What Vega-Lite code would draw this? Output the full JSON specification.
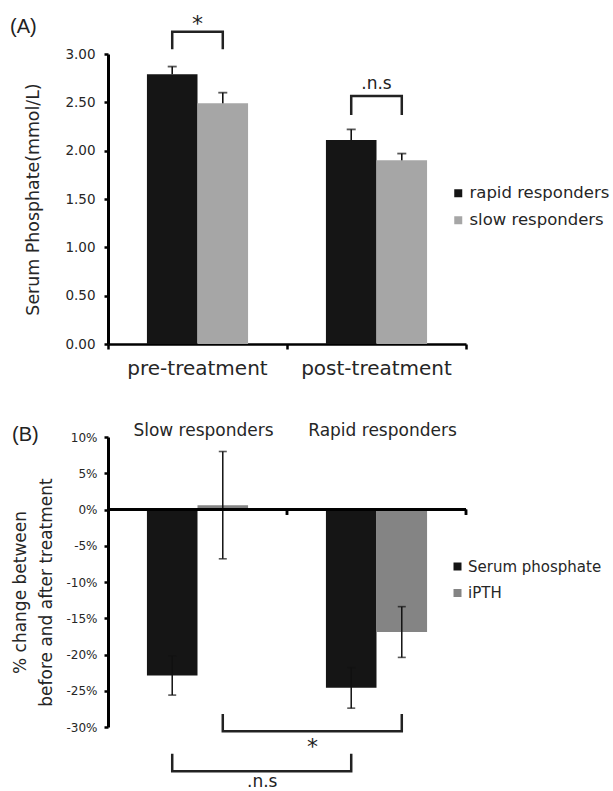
{
  "$schema": "https://vega.github.io/schema/vega-lite/v6.json",
  "padding": {"left": 10, "top": 12, "right": 0, "bottom": 0},
  "background": "white",
  "config": {
    "view": {"stroke": null},
    "font": "DejaVu Sans",
    "axis": {"labelFont": "DejaVu Sans", "titleFont": "DejaVu Sans", "labelColor": "#262626", "titleColor": "#262626", "titleFontWeight": "normal", "domainColor": "#000", "tickColor": "#000", "grid": false},
    "legend": {"labelFont": "DejaVu Sans", "labelColor": "#262626"},
    "title": {"font": "Liberation Sans", "fontWeight": "normal", "color": "#222"}
  },
  "datasets": {
    "phosphate": [
      {"period": "pre-treatment", "group": "rapid responders", "mean": 2.79, "upper": 2.87},
      {"period": "pre-treatment", "group": "slow responders", "mean": 2.49, "upper": 2.60},
      {"period": "post-treatment", "group": "rapid responders", "mean": 2.11, "upper": 2.22},
      {"period": "post-treatment", "group": "slow responders", "mean": 1.90, "upper": 1.97}
    ],
    "phosBrackets": [
      {"bracket": "pre", "period": "pre-treatment", "group": "rapid responders", "step": 1, "y": 3.05},
      {"bracket": "pre", "period": "pre-treatment", "group": "rapid responders", "step": 2, "y": 3.23},
      {"bracket": "pre", "period": "pre-treatment", "group": "slow responders", "step": 3, "y": 3.23},
      {"bracket": "pre", "period": "pre-treatment", "group": "slow responders", "step": 4, "y": 3.05},
      {"bracket": "post", "period": "post-treatment", "group": "rapid responders", "step": 1, "y": 2.37},
      {"bracket": "post", "period": "post-treatment", "group": "rapid responders", "step": 2, "y": 2.565},
      {"bracket": "post", "period": "post-treatment", "group": "slow responders", "step": 3, "y": 2.565},
      {"bracket": "post", "period": "post-treatment", "group": "slow responders", "step": 4, "y": 2.37}
    ],
    "phosStar": [{"period": "pre-treatment", "label": "*", "y": 3.24}],
    "phosNs": [{"period": "post-treatment", "label": ".n.s", "y": 2.64}],
    "change": [
      {"group": "Slow responders", "measure": "Serum phosphate", "value": -22.9, "lower": -25.6, "upper": -20.2},
      {"group": "Slow responders", "measure": "iPTH", "value": 0.6, "lower": -6.8, "upper": 8.0},
      {"group": "Rapid responders", "measure": "Serum phosphate", "value": -24.6, "lower": -27.4, "upper": -21.8},
      {"group": "Rapid responders", "measure": "iPTH", "value": -16.9, "lower": -20.4, "upper": -13.4}
    ],
    "changeBrackets": [
      {"bracket": "ns", "group": "Slow responders", "measure": "Serum phosphate", "step": 1, "y": -33.7},
      {"bracket": "ns", "group": "Slow responders", "measure": "Serum phosphate", "step": 2, "y": -36.1},
      {"bracket": "ns", "group": "Rapid responders", "measure": "Serum phosphate", "step": 3, "y": -36.1},
      {"bracket": "ns", "group": "Rapid responders", "measure": "Serum phosphate", "step": 4, "y": -33.7},
      {"bracket": "star", "group": "Slow responders", "measure": "iPTH", "step": 1, "y": -28.2},
      {"bracket": "star", "group": "Slow responders", "measure": "iPTH", "step": 2, "y": -30.6},
      {"bracket": "star", "group": "Rapid responders", "measure": "iPTH", "step": 3, "y": -30.6},
      {"bracket": "star", "group": "Rapid responders", "measure": "iPTH", "step": 4, "y": -28.2}
    ],
    "changeStar": [{"group": "Slow responders", "label": "*", "y": -33.7}],
    "changeNs": [{"group": "Slow responders", "label": ".n.s", "y": -38.3}]
  },
  "spacing": 93,
  "bounds": "flush",
  "resolve": {
    "scale": {"x": "independent", "y": "independent", "xOffset": "independent", "color": "independent"},
    "legend": {"color": "independent"}
  },
  "vconcat": [
    {
      "width": 358,
      "height": 290,
      "title": {"text": "(A)", "anchor": "start", "frame": "group", "dx": -98, "dy": 28, "fontSize": 20},
      "layer": [
        {
          "data": {"name": "phosphate"},
          "mark": {"type": "bar"},
          "encoding": {
            "x": {"field": "period", "type": "nominal", "title": null,
              "scale": {"domain": ["pre-treatment", "post-treatment"], "paddingInner": 0, "paddingOuter": 0},
              "axis": {"orient": "bottom", "domainWidth": 2.5, "tickSize": 5, "tickWidth": 2.5, "bandPosition": 1, "tickExtra": true, "labelFontSize": 20, "labelBaseline": "alphabetic", "labelPadding": 25, "labelAngle": 0}},
            "xOffset": {"field": "group", "type": "nominal",
              "scale": {"domain": ["rapid responders", "slow responders"], "paddingInner": 0, "paddingOuter": 0.77}},
            "y": {"field": "mean", "type": "quantitative", "stack": null, "title": "Serum Phosphate(mmol/L)",
              "scale": {"domain": [0, 3]},
              "axis": {"values": [0, 0.5, 1, 1.5, 2, 2.5, 3], "format": ".2f", "labelOverlap": false, "labelFontSize": 13.5, "tickSize": 4, "tickWidth": 2.5, "domainWidth": 3, "labelPadding": 9, "titleFontSize": 17.4, "titlePadding": 22}},
            "color": {"field": "group", "type": "nominal",
              "scale": {"domain": ["rapid responders", "slow responders"], "range": ["#151515", "#a6a6a6"]},
              "legend": {"orient": "none", "legendX": 342, "legendY": 131, "title": null, "symbolType": "square", "symbolSize": 64, "symbolStrokeWidth": 0, "labelFontSize": 16.5, "rowPadding": 10, "labelOffset": 3, "padding": 0}}
          }
        },
        {
          "data": {"name": "phosphate"},
          "mark": {"type": "rule", "color": "#111", "strokeWidth": 1.6},
          "encoding": {
            "x": {"field": "period", "type": "nominal", "title": null, "scale": {"domain": ["pre-treatment", "post-treatment"]}},
            "xOffset": {"field": "group", "type": "nominal", "scale": {"domain": ["rapid responders", "slow responders"]}},
            "y": {"field": "mean", "type": "quantitative", "title": "Serum Phosphate(mmol/L)"},
            "y2": {"field": "upper"}
          }
        },
        {
          "data": {"name": "phosphate"},
          "mark": {"type": "tick", "orient": "horizontal", "size": 9, "thickness": 1.8, "color": "#111"},
          "encoding": {
            "x": {"field": "period", "type": "nominal", "title": null, "scale": {"domain": ["pre-treatment", "post-treatment"]}},
            "xOffset": {"field": "group", "type": "nominal", "scale": {"domain": ["rapid responders", "slow responders"]}},
            "y": {"field": "upper", "type": "quantitative", "title": "Serum Phosphate(mmol/L)"}
          }
        },
        {
          "data": {"name": "phosBrackets"},
          "mark": {"type": "line", "color": "#222", "strokeWidth": 2.5},
          "encoding": {
            "x": {"field": "period", "type": "nominal", "title": null, "scale": {"domain": ["pre-treatment", "post-treatment"]}},
            "xOffset": {"field": "group", "type": "nominal", "scale": {"domain": ["rapid responders", "slow responders"]}},
            "y": {"field": "y", "type": "quantitative", "title": "Serum Phosphate(mmol/L)"},
            "detail": {"field": "bracket"},
            "order": {"field": "step", "type": "quantitative"}
          }
        },
        {
          "data": {"name": "phosStar"},
          "mark": {"type": "text", "font": "DejaVu Sans", "fontSize": 22, "baseline": "alphabetic", "color": "#222"},
          "encoding": {
            "x": {"field": "period", "type": "nominal", "title": null, "scale": {"domain": ["pre-treatment", "post-treatment"]}},
            "y": {"field": "y", "type": "quantitative", "title": "Serum Phosphate(mmol/L)"},
            "text": {"field": "label"}
          }
        },
        {
          "data": {"name": "phosNs"},
          "mark": {"type": "text", "font": "DejaVu Sans", "fontSize": 17, "baseline": "alphabetic", "color": "#222"},
          "encoding": {
            "x": {"field": "period", "type": "nominal", "title": null, "scale": {"domain": ["pre-treatment", "post-treatment"]}},
            "y": {"field": "y", "type": "quantitative", "title": "Serum Phosphate(mmol/L)"},
            "text": {"field": "label"}
          }
        }
      ]
    },
    {
      "width": 358,
      "height": 290,
      "title": {"text": "(B)", "anchor": "start", "frame": "group", "dx": -96, "dy": 28, "fontSize": 20},
      "layer": [
        {
          "data": {"name": "change"},
          "mark": {"type": "bar"},
          "encoding": {
            "x": {"field": "group", "type": "nominal", "title": null,
              "scale": {"domain": ["Slow responders", "Rapid responders"], "paddingInner": 0, "paddingOuter": 0},
              "axis": {"orient": "top", "domain": false, "ticks": false, "tickSize": 0, "labelFontSize": 17, "labelPadding": 2, "labelBaseline": "alphabetic", "labelAngle": 0, "labelOffset": 6}},
            "xOffset": {"field": "measure", "type": "nominal",
              "scale": {"domain": ["Serum phosphate", "iPTH"], "paddingInner": 0, "paddingOuter": 0.77}},
            "y": {"field": "value", "type": "quantitative", "stack": null,
              "title": ["% change between", "before and after treatment"],
              "scale": {"domain": [-30, 10]},
              "axis": {"values": [-30, -25, -20, -15, -10, -5, 0, 5, 10], "tickCount": 9, "labelExpr": "datum.value + '%'", "labelOverlap": false, "labelFontSize": 12, "tickSize": 4, "tickWidth": 2.5, "domainWidth": 3, "labelPadding": 7, "titleFontSize": 17, "titleLineHeight": 26, "titlePadding": 10, "titleY": 155}},
            "color": {"field": "measure", "type": "nominal",
              "scale": {"domain": ["Serum phosphate", "iPTH"], "range": ["#151515", "#848484"]},
              "legend": {"orient": "none", "legendX": 342, "legendY": 122, "title": null, "symbolType": "square", "symbolSize": 64, "symbolStrokeWidth": 0, "labelFontSize": 15, "rowPadding": 10.5, "labelOffset": 3, "padding": 0}}
          }
        },
        {
          "data": {"name": "change"},
          "mark": {"type": "rule", "color": "#111", "strokeWidth": 1.5},
          "encoding": {
            "x": {"field": "group", "type": "nominal", "title": null, "scale": {"domain": ["Slow responders", "Rapid responders"]}},
            "xOffset": {"field": "measure", "type": "nominal", "scale": {"domain": ["Serum phosphate", "iPTH"]}},
            "y": {"field": "lower", "type": "quantitative", "title": ["% change between", "before and after treatment"],
              "axis": {"values": [-30, -25, -20, -15, -10, -5, 0, 5, 10], "tickCount": 9, "labelExpr": "datum.value + '%'", "labelOverlap": false, "labelFontSize": 12, "tickSize": 4, "tickWidth": 2.5, "domainWidth": 3, "labelPadding": 7, "titleFontSize": 17, "titleLineHeight": 26, "titlePadding": 10, "titleY": 155}},
            "y2": {"field": "upper"}
          }
        },
        {
          "data": {"name": "change"},
          "mark": {"type": "tick", "orient": "horizontal", "size": 8, "thickness": 1.6, "color": "#111"},
          "encoding": {
            "x": {"field": "group", "type": "nominal", "title": null, "scale": {"domain": ["Slow responders", "Rapid responders"]}},
            "xOffset": {"field": "measure", "type": "nominal", "scale": {"domain": ["Serum phosphate", "iPTH"]}},
            "y": {"field": "lower", "type": "quantitative", "title": ["% change between", "before and after treatment"],
              "axis": {"values": [-30, -25, -20, -15, -10, -5, 0, 5, 10], "tickCount": 9, "labelExpr": "datum.value + '%'", "labelOverlap": false, "labelFontSize": 12, "tickSize": 4, "tickWidth": 2.5, "domainWidth": 3, "labelPadding": 7, "titleFontSize": 17, "titleLineHeight": 26, "titlePadding": 10, "titleY": 155}}
          }
        },
        {
          "data": {"name": "change"},
          "mark": {"type": "tick", "orient": "horizontal", "size": 8, "thickness": 1.6, "color": "#111"},
          "encoding": {
            "x": {"field": "group", "type": "nominal", "title": null, "scale": {"domain": ["Slow responders", "Rapid responders"]}},
            "xOffset": {"field": "measure", "type": "nominal", "scale": {"domain": ["Serum phosphate", "iPTH"]}},
            "y": {"field": "upper", "type": "quantitative", "title": ["% change between", "before and after treatment"],
              "axis": {"values": [-30, -25, -20, -15, -10, -5, 0, 5, 10], "tickCount": 9, "labelExpr": "datum.value + '%'", "labelOverlap": false, "labelFontSize": 12, "tickSize": 4, "tickWidth": 2.5, "domainWidth": 3, "labelPadding": 7, "titleFontSize": 17, "titleLineHeight": 26, "titlePadding": 10, "titleY": 155}}
          }
        },
        {
          "data": {"name": "changeBrackets"},
          "mark": {"type": "line", "color": "#222", "strokeWidth": 2.5},
          "encoding": {
            "x": {"field": "group", "type": "nominal", "title": null, "scale": {"domain": ["Slow responders", "Rapid responders"]}},
            "xOffset": {"field": "measure", "type": "nominal", "scale": {"domain": ["Serum phosphate", "iPTH"]}},
            "y": {"field": "y", "type": "quantitative", "title": ["% change between", "before and after treatment"],
              "axis": {"values": [-30, -25, -20, -15, -10, -5, 0, 5, 10], "tickCount": 9, "labelExpr": "datum.value + '%'", "labelOverlap": false, "labelFontSize": 12, "tickSize": 4, "tickWidth": 2.5, "domainWidth": 3, "labelPadding": 7, "titleFontSize": 17, "titleLineHeight": 26, "titlePadding": 10, "titleY": 155}},
            "detail": {"field": "bracket"},
            "order": {"field": "step", "type": "quantitative"}
          }
        },
        {
          "data": {"name": "changeStar"},
          "mark": {"type": "text", "font": "DejaVu Sans", "fontSize": 22, "baseline": "alphabetic", "color": "#222", "dx": 25.5},
          "encoding": {
            "x": {"field": "group", "type": "nominal", "bandPosition": 1, "title": null, "scale": {"domain": ["Slow responders", "Rapid responders"]}},
            "y": {"field": "y", "type": "quantitative", "title": ["% change between", "before and after treatment"],
              "axis": {"values": [-30, -25, -20, -15, -10, -5, 0, 5, 10], "tickCount": 9, "labelExpr": "datum.value + '%'", "labelOverlap": false, "labelFontSize": 12, "tickSize": 4, "tickWidth": 2.5, "domainWidth": 3, "labelPadding": 7, "titleFontSize": 17, "titleLineHeight": 26, "titlePadding": 10, "titleY": 155}},
            "text": {"field": "label"}
          }
        },
        {
          "data": {"name": "changeNs"},
          "mark": {"type": "text", "font": "DejaVu Sans", "fontSize": 17, "baseline": "alphabetic", "color": "#222", "dx": -24.75},
          "encoding": {
            "x": {"field": "group", "type": "nominal", "bandPosition": 1, "title": null, "scale": {"domain": ["Slow responders", "Rapid responders"]}},
            "y": {"field": "y", "type": "quantitative", "title": ["% change between", "before and after treatment"],
              "axis": {"values": [-30, -25, -20, -15, -10, -5, 0, 5, 10], "tickCount": 9, "labelExpr": "datum.value + '%'", "labelOverlap": false, "labelFontSize": 12, "tickSize": 4, "tickWidth": 2.5, "domainWidth": 3, "labelPadding": 7, "titleFontSize": 17, "titleLineHeight": 26, "titlePadding": 10, "titleY": 155}},
            "text": {"field": "label"}
          }
        },
        {
          "data": {"name": "change"},
          "mark": {"type": "rule", "color": "#000", "strokeWidth": 2.5},
          "encoding": {
            "y": {"datum": 0, "type": "quantitative", "title": ["% change between", "before and after treatment"],
              "axis": {"values": [-30, -25, -20, -15, -10, -5, 0, 5, 10], "tickCount": 9, "labelExpr": "datum.value + '%'", "labelOverlap": false, "labelFontSize": 12, "tickSize": 4, "tickWidth": 2.5, "domainWidth": 3, "labelPadding": 7, "titleFontSize": 17, "titleLineHeight": 26, "titlePadding": 10, "titleY": 155}}
          }
        },
        {
          "data": {"name": "change"},
          "mark": {"type": "rule", "color": "#000", "strokeWidth": 2.5},
          "encoding": {
            "x": {"field": "group", "type": "nominal", "bandPosition": 1, "title": null, "scale": {"domain": ["Slow responders", "Rapid responders"]}},
            "y": {"datum": 0, "type": "quantitative", "title": ["% change between", "before and after treatment"],
              "axis": {"values": [-30, -25, -20, -15, -10, -5, 0, 5, 10], "tickCount": 9, "labelExpr": "datum.value + '%'", "labelOverlap": false, "labelFontSize": 12, "tickSize": 4, "tickWidth": 2.5, "domainWidth": 3, "labelPadding": 7, "titleFontSize": 17, "titleLineHeight": 26, "titlePadding": 10, "titleY": 155}},
            "y2": {"datum": -0.75}
          }
        }
      ]
    }
  ]
}
